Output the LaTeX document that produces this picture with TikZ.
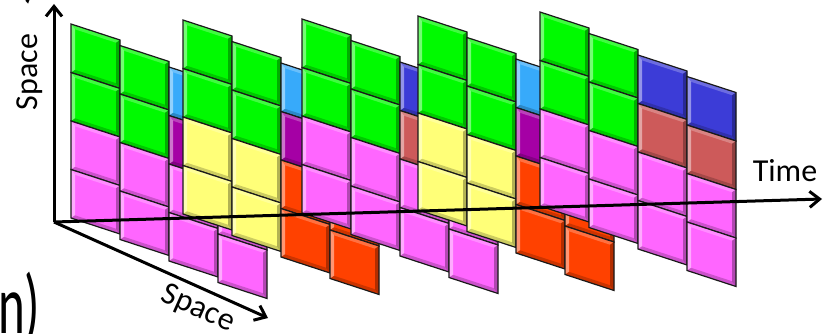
\documentclass[tikz,border=0pt]{standalone}
\usepackage{fontspec}
\setmainfont{Carlito}
\usepackage{tikz}
\usetikzlibrary{arrows.meta}
\usepackage{xcolor}

\definecolor{tilegreen}{RGB}{0,250,0}
\definecolor{tilepink}{RGB}{255,102,255}
\definecolor{tileyellow}{RGB}{255,255,120}
\definecolor{tileltblue}{RGB}{55,170,250}
\definecolor{tiledkblue}{RGB}{60,60,215}
\definecolor{tilepurple}{RGB}{165,0,165}
\definecolor{tilesalmon}{RGB}{205,90,90}
\definecolor{tileorange}{RGB}{255,65,0}

\begin{document}
\begin{tikzpicture}[x=1pt, y=-1pt,
    axis/.style={line width=3pt, -{Straight Barb[length=10pt, width=16pt]}},
    axislabel/.style={font=\fontsize{32}{36}\selectfont, inner sep=0pt},
    bigtext/.style={font=\fontsize{60}{60}\selectfont, inner sep=0pt, xscale=0.85, yscale=1.4},
    tileline/.style={draw=black!90, line width=1.2pt},
    hilite/.style={fill=white, fill opacity=0.45},
    shadow/.style={fill=black, fill opacity=0.3},
  ]
  \useasboundingbox (0,0) rectangle (827,334);

  % Axes
  \coordinate (origin) at (54,222);
  \coordinate (spaceup) at (54,4);
  \coordinate (spacein) at (268,318);
  \coordinate (timeend) at (822,199);
  \draw[axis] (origin) -- (spaceup);
  \draw[axis] (origin) -- (spacein);

  % Slices: first column / lower left / top right / middle right / lower right
  \foreach \sx/\sy/\lowl/\topr/\midr/\lowr in {
      71/24/tilepink/tileltblue/tilepurple/tilepink,
      183/20/tileyellow/tileltblue/tilepurple/tileorange,
      302/19/tilepink/tiledkblue/tilesalmon/tilepink,
      418/16/tileyellow/tileltblue/tilepurple/tileorange,
      540/12/tilepink/tiledkblue/tilesalmon/tilepink}
    \foreach \cc in {0,...,3} {
      \begin{scope}[shift={({\sx+49*\cc},{\sy+21.5*\cc})}, yslant=-0.3265]
        \foreach \rr in {0,...,3} {
          \ifnum\cc<2
            \ifnum\rr<2 \def\tc{tilegreen}\else\let\tc\lowl\fi
          \else
            \ifcase\rr \let\tc\topr\or\let\tc\midr\else\let\tc\lowr\fi
          \fi
          \fill[\tc] (0,48.5*\rr) rectangle ++(49,48.5);
          \fill[hilite] (0,48.5*\rr) -- ++(0,48.5) -- ++(4,-4) -- ++(0,-40.5) -- cycle;
          \fill[hilite, fill opacity=0.25] (0,48.5*\rr) -- ++(49,0) -- ++(-4,4) -- ++(-41,0) -- cycle;
          \fill[shadow] (49,48.5*\rr) -- ++(0,48.5) -- ++(-4,-4) -- ++(0,-40.5) -- cycle;
          \fill[shadow, fill opacity=0.2] (0,48.5*\rr+48.5) -- ++(49,0) -- ++(-4,-4) -- ++(-41,0) -- cycle;
          \draw[tileline] (0,48.5*\rr) rectangle ++(49,48.5);
        }
      \end{scope}
    }

  \draw[axis] (origin) -- (timeend);

  % Labels
  \node[axislabel, rotate=90] (spacelbl) at (30,72) {Space};
  \node[axislabel] (timelbl) at (785,171) {Time};
  \node[axislabel, rotate=-24] (depthlbl) at (198,309) {Space};
  \node[bigtext, anchor=base west] (partlbl) at (-2,333) {n)};
  \node[bigtext, anchor=south] (toplbl) at (31,4) {)};
\end{tikzpicture}
\end{document}
